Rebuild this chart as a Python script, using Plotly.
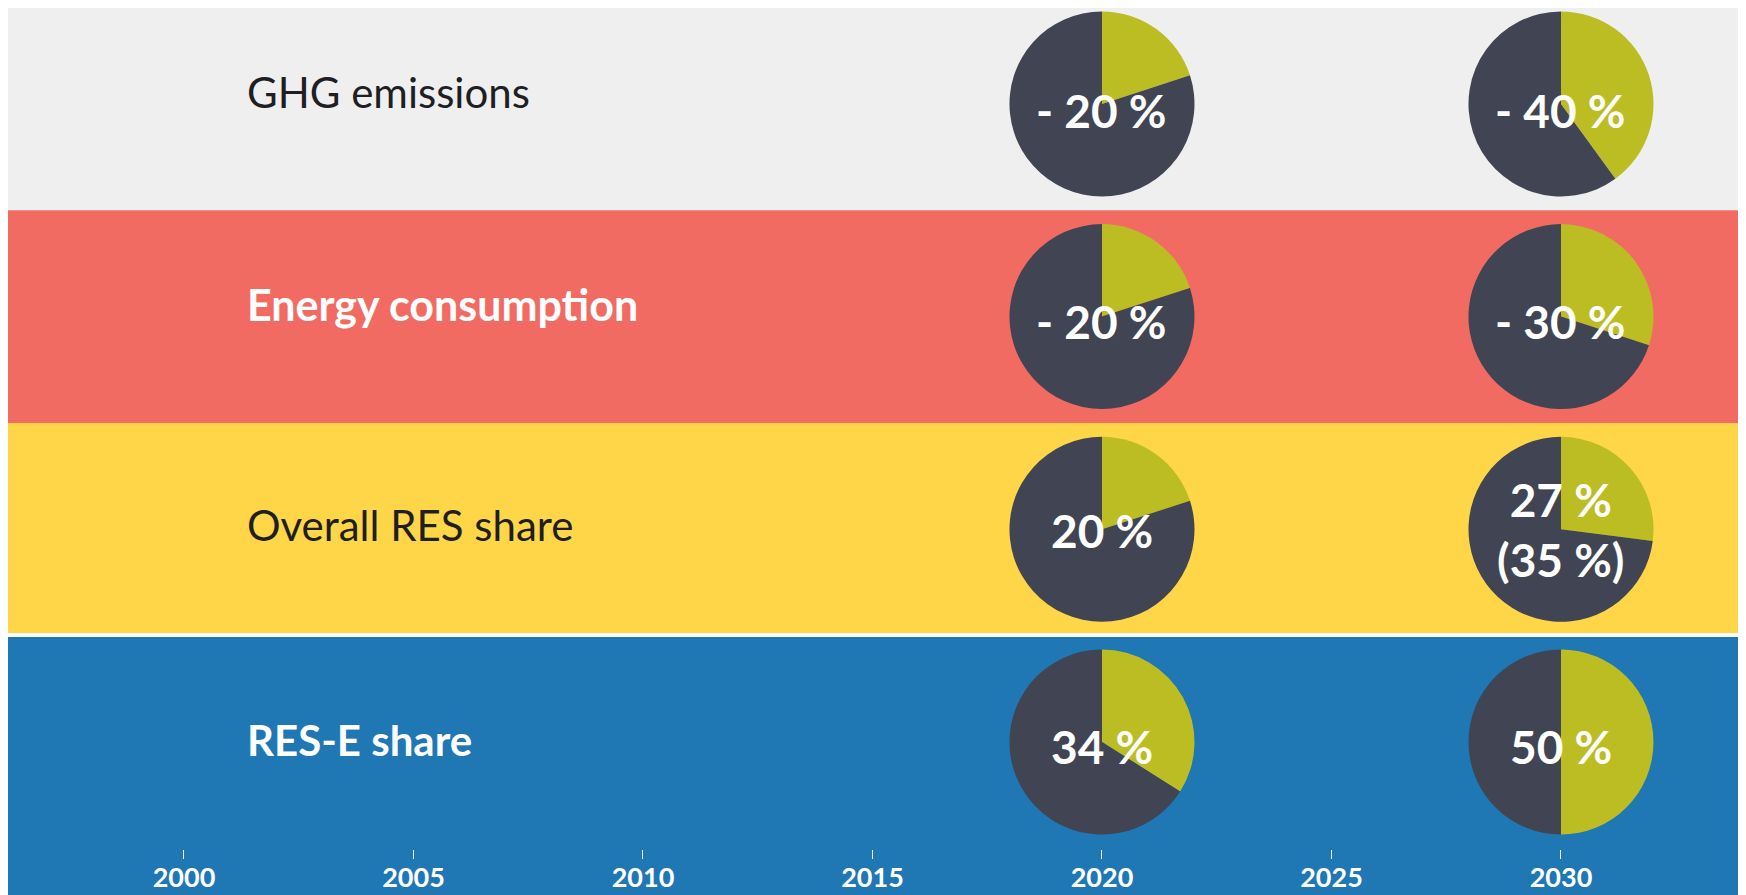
import plotly.graph_objects as go

# ---- data ----
rows = ["GHG emissions", "Energy consumption", "Overall RES share", "RES-E share"]
years = [2020, 2030]
target_2020 = [20, 20, 20, 34]   # share shown in green
target_2030 = [40, 30, 27, 50]
labels_2020 = ["- 20 %", "- 20 %", "20 %", "34 %"]
labels_2030 = ["- 40 %", "- 30 %", "27 %<br>(35 %)", "50 %"]
tick_years = [2000, 2005, 2010, 2015, 2020, 2025, 2030]

# ---- style ----
band_colors = ["#efefef", "#f26b63", "#ffd647", "#1f77b4"]
row_text_colors = ["#1e1e24", "#ffffff", "#1e1e24", "#ffffff"]
row_text_bold = [False, True, False, True]
row_text_size = [42, 43, 42, 42]
row_text_shift = [12, 12, 4, 2]
pie_text_shift = [-7, -5, -1, -4]
green = "#bcbd22"
dark = "#414452"
FONT = "Lato"

# page has an 8px body margin; size figure so it fits the 1746x895 viewport
W, H = 1738, 887
ML, MR, MT, MB = 0, 6, 0, 46
PW, PH = W - ML - MR, H - MT - MB
XR = [1996.166, 2033.90]
YR = [-0.503, 3.451]
PIE_R = 92.5


def xp(x):
    return (x - XR[0]) / (XR[1] - XR[0])


def yp(y):
    return (y - YR[0]) / (YR[1] - YR[0])


n = len(rows)
row_y = [n - 1 - i for i in range(n)]  # top row highest

fig = go.Figure()

# invisible scatter to establish axes
fig.add_trace(go.Scatter(x=tick_years, y=[None] * len(tick_years), mode="markers",
                         showlegend=False, hoverinfo="skip"))

# background bands
shapes = []
for i in range(n):
    yc = row_y[i]
    top = 1.0 if i == 0 else yp(yc + 0.5)
    bot = yp(yc - 0.5) if i < n - 1 else -0.3
    if i == n - 2:
        bot = yp(yc - 0.5 + 0.012)
    if i == n - 1:
        top = yp(yc + 0.5 - 0.006)
    shapes.append(dict(type="rect", xref="paper", yref="paper", x0=0, x1=1,
                       y0=bot, y1=top, fillcolor=band_colors[i],
                       line=dict(width=0), layer="below"))

annotations = []
for i in range(n):
    yc = row_y[i]
    annotations.append(dict(
        x=(245 - 8) / PW, xref="paper", y=yc, yref="y",
        text=("<b>%s</b>" % rows[i]) if row_text_bold[i] else rows[i],
        showarrow=False, xanchor="left", yanchor="middle", yshift=row_text_shift[i],
        font=dict(family=FONT, size=row_text_size[i], color=row_text_colors[i])))

rx = PIE_R / PW
ry = PIE_R / PH
for yr, vals, labs in [(years[0], target_2020, labels_2020), (years[1], target_2030, labels_2030)]:
    for i in range(n):
        yc = row_y[i]
        cx, cy = xp(yr), yp(yc)
        fig.add_trace(go.Pie(
            values=[vals[i], 100 - vals[i]],
            labels=["target", "rest"],
            marker=dict(colors=[green, dark], line=dict(width=0)),
            sort=False, direction="clockwise", rotation=0,
            textinfo="none", hoverinfo="skip", showlegend=False,
            domain=dict(x=[cx - rx, cx + rx], y=[cy - ry, cy + ry])))
        annotations.append(dict(
            x=yr, xref="x", y=yc, yref="y", text="<b>%s</b>" % labs[i],
            showarrow=False, xanchor="center", yanchor="middle",
            yshift=pie_text_shift[i] if "<br>" not in labs[i] else 0,
            font=dict(family=FONT, size=46, color="#ffffff")))

fig.update_layout(
    width=W, height=H,
    margin=dict(l=ML, r=MR, t=MT, b=MB, autoexpand=False),
    paper_bgcolor="#ffffff", plot_bgcolor="rgba(0,0,0,0)",
    shapes=shapes, annotations=annotations, showlegend=False,
    xaxis=dict(range=XR, tickvals=tick_years, ticktext=["<b>%d</b>" % t for t in tick_years],
               ticks="outside", ticklen=9, tickwidth=1, tickcolor="#ffffff",
               ticklabelstandoff=-4, automargin=False,
               tickfont=dict(family=FONT, size=27, color="#ffffff"),
               showgrid=False, zeroline=False, showline=False, fixedrange=True),
    yaxis=dict(range=YR, visible=False, automargin=False, showgrid=False,
               zeroline=False, fixedrange=True),
)

fig.write_html("out.html")
